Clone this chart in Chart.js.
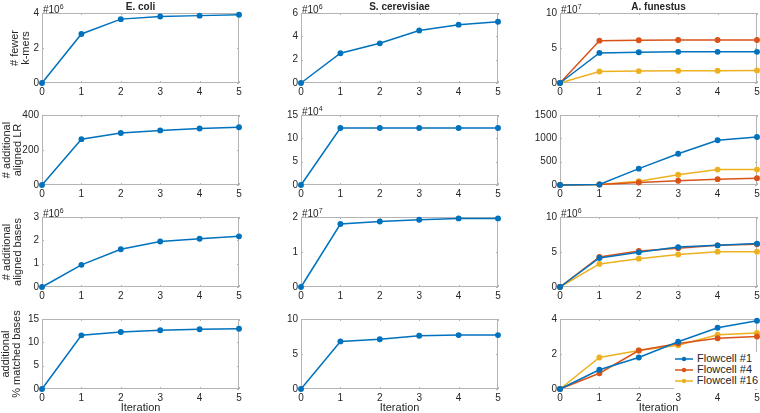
<!DOCTYPE html>
<html>
<head>
<meta charset="utf-8">
<script src="https://cdn.jsdelivr.net/npm/chart.js@4.4.1/dist/chart.umd.min.js"></script>
<style>
  body { margin: 0; width: 760px; height: 413px; background: #fff; overflow: hidden; position: relative; font-family: "Liberation Sans", Arial, sans-serif; color: #262626; }
  canvas { position: absolute; }
  .title { position: absolute; top: 1px; font-weight: bold; font-size: 10px; transform: translateX(-50%); white-space: nowrap; }
  .ylab { position: absolute; font-size: 11px; line-height: 11px; text-align: center; white-space: nowrap; transform: translate(-50%, -50%) rotate(-90deg); }
  .xlab { position: absolute; top: 401px; font-size: 11px; transform: translateX(-50%); }
  #legend { position: absolute; left: 674px; top: 352px; width: 84px; height: 36px; background: #fff; font-size: 11px; }
  #legend div { height: 11px; line-height: 11px; display: flex; align-items: center; white-space: nowrap; }
  #legend svg { margin-right: 3px; }
</style>
</head>
<body>
<script>
const iterations = [0, 1, 2, 3, 4, 5];
const organisms = ['E. coli', 'S. cerevisiae', 'A. funestus'];
const rowLabels = [['# fewer', 'k-mers'], ['# additional', 'aligned LR'], ['# additional', 'aligned bases'], ['additional', '% matched bases']];
const flowcells = ['Flowcell #1', 'Flowcell #4', 'Flowcell #16'];
const colors = ['#0072BD', '#D95319', '#EDB120'];

// fewer k-mers
const ecoliKmers = [0, 2.8, 3.65, 3.8, 3.85, 3.9];          // x10^6
const scerKmers = [0, 2.55, 3.4, 4.5, 5.0, 5.25];           // x10^6
const afunKmers1 = [0, 4.3, 4.4, 4.45, 4.45, 4.45];         // x10^7
const afunKmers4 = [0, 6.05, 6.1, 6.15, 6.15, 6.15];
const afunKmers16 = [0, 1.65, 1.7, 1.75, 1.75, 1.8];

// additional aligned long reads
const ecoliLR = [0, 262, 297, 312, 323, 330];
const scerLR = [0, 12.2, 12.2, 12.2, 12.2, 12.2];           // x10^4
const afunLR1 = [0, 10, 350, 670, 960, 1030];
const afunLR4 = [0, 10, 55, 90, 125, 145];
const afunLR16 = [0, 10, 80, 220, 330, 330];

// additional aligned bases
const ecoliBases = [0, 0.95, 1.62, 1.95, 2.07, 2.17];       // x10^6
const scerBases = [0, 1.8, 1.87, 1.92, 1.96, 1.96];         // x10^7
const afunBases1 = [0, 4.15, 4.95, 5.7, 5.95, 6.2];         // x10^6
const afunBases4 = [0, 4.3, 5.15, 5.55, 5.95, 6.1];
const afunBases16 = [0, 3.3, 4.05, 4.65, 5.05, 5.05];

// additional % matched bases
const ecoliMatched = [0, 11.5, 12.2, 12.6, 12.8, 12.9];
const scerMatched = [0, 6.8, 7.1, 7.6, 7.7, 7.7];
const afunMatched1 = [0, 1.1, 1.8, 2.7, 3.5, 3.9];
const afunMatched4 = [0, 0.9, 2.2, 2.6, 2.9, 3.0];
const afunMatched16 = [0, 1.8, 2.2, 2.5, 3.1, 3.2];

const colLeft = [42, 301, 560];
const rowTop = [12, 114, 216, 318];
const plotW = 197, plotH = 71;
const axisW = 40, axisH = 18, padT = 8, padR = 8;

Chart.defaults.font.family = '"Liberation Sans", Arial, sans-serif';
Chart.defaults.font.size = 10;
Chart.defaults.color = '#262626';

const boxPlugin = {
  id: 'box',
  beforeDatasetsDraw(chart, args, opts) {
    const { ctx, chartArea: a, scales } = chart;
    ctx.save();
    ctx.strokeStyle = '#b4b4b4';
    ctx.lineWidth = 1;
    ctx.strokeRect(Math.round(a.left) + 0.5, Math.round(a.top) + 0.5, Math.round(a.width) - 1, Math.round(a.height) - 1);
    ctx.beginPath();
    scales.x.ticks.forEach((t, i) => {
      const px = Math.round(scales.x.getPixelForTick(i)) + 0.5;
      ctx.moveTo(px, a.bottom); ctx.lineTo(px, a.bottom - 2);
      ctx.moveTo(px, a.top); ctx.lineTo(px, a.top + 2);
    });
    scales.y.ticks.forEach((t, i) => {
      const py = Math.round(scales.y.getPixelForTick(i)) + 0.5;
      ctx.moveTo(a.left, py); ctx.lineTo(a.left + 2, py);
      ctx.moveTo(a.right, py); ctx.lineTo(a.right - 2, py);
    });
    ctx.stroke();
    if (opts.exp) {
      ctx.fillStyle = '#262626';
      ctx.textBaseline = 'alphabetic';
      ctx.font = '10px "Liberation Sans", Arial, sans-serif';
      ctx.fillText('#10', a.left + 1, a.top);
      const w = ctx.measureText('#10').width;
      ctx.font = '7px "Liberation Sans", Arial, sans-serif';
      ctx.fillText(opts.exp, a.left + 1 + w, a.top - 4);
    }
    ctx.restore();
  }
};

function makeChart(row, col, series, yMax, yStep, exp) {
  const canvas = document.createElement('canvas');
  canvas.width = axisW + plotW + padR;
  canvas.height = padT + plotH + axisH;
  canvas.style.left = (colLeft[col] - axisW) + 'px';
  canvas.style.top = (rowTop[row] - padT) + 'px';
  document.body.appendChild(canvas);
  new Chart(canvas, {
    type: 'line',
    data: {
      labels: iterations,
      datasets: series.map((values, i) => ({
        label: flowcells[i],
        data: values,
        borderColor: colors[i],
        backgroundColor: colors[i],
        borderWidth: 1.5,
        pointRadius: 2.2,
        pointHoverRadius: 2.2,
        tension: 0,
        clip: false
      }))
    },
    options: {
      responsive: false,
      animation: false,
      layout: { padding: { top: padT, right: padR, left: 0, bottom: 0 } },
      plugins: { legend: { display: false }, tooltip: { enabled: false }, box: { exp: exp } },
      scales: {
        x: {
          offset: false,
          grid: { display: false, drawTicks: false },
          border: { display: false },
          ticks: { padding: 3, maxRotation: 0 },
          afterFit(scale) { scale.height = axisH; }
        },
        y: {
          min: 0, max: yMax,
          grid: { display: false, drawTicks: false },
          border: { display: false },
          ticks: { stepSize: yStep, padding: 3, callback: v => String(v) },
          afterFit(scale) { scale.width = axisW; }
        }
      }
    },
    plugins: [boxPlugin]
  });
}

makeChart(0, 0, [ecoliKmers], 4, 2, '6');
makeChart(0, 1, [scerKmers], 6, 2, '6');
makeChart(0, 2, [afunKmers1, afunKmers4, afunKmers16], 10, 5, '7');
makeChart(1, 0, [ecoliLR], 400, 200, null);
makeChart(1, 1, [scerLR], 15, 5, '4');
makeChart(1, 2, [afunLR1, afunLR4, afunLR16], 1500, 500, null);
makeChart(2, 0, [ecoliBases], 3, 1, '6');
makeChart(2, 1, [scerBases], 2, 1, '7');
makeChart(2, 2, [afunBases1, afunBases4, afunBases16], 10, 5, '6');
makeChart(3, 0, [ecoliMatched], 15, 5, null);
makeChart(3, 1, [scerMatched], 10, 5, null);
makeChart(3, 2, [afunMatched1, afunMatched4, afunMatched16], 4, 2, null);

// column titles and x labels
organisms.forEach((name, c) => {
  const t = document.createElement('div');
  t.className = 'title';
  t.style.left = (colLeft[c] + plotW / 2) + 'px';
  t.textContent = name;
  document.body.appendChild(t);
  const x = document.createElement('div');
  x.className = 'xlab';
  x.style.left = (colLeft[c] + plotW / 2) + 'px';
  x.textContent = 'Iteration';
  document.body.appendChild(x);
});

// row labels
const rowLabelX = [19.5, 12, 12, 11];
rowLabels.forEach((lines, r) => {
  const d = document.createElement('div');
  d.className = 'ylab';
  d.style.left = rowLabelX[r] + 'px';
  d.style.top = (rowTop[r] + plotH / 2) + 'px';
  d.innerHTML = lines.join('<br>');
  document.body.appendChild(d);
});

// legend
const legend = document.createElement('div');
legend.id = 'legend';
flowcells.forEach((name, i) => {
  const item = document.createElement('div');
  item.innerHTML = '<svg width="20" height="8"><line x1="1" y1="4" x2="19" y2="4" stroke="' + colors[i] +
    '" stroke-width="1.5"/><circle cx="10" cy="4" r="2.2" fill="' + colors[i] + '"/></svg><span>' + name + '</span>';
  legend.appendChild(item);
});
legend.style.paddingTop = '1px';
document.body.appendChild(legend);
</script>
</body>
</html>
